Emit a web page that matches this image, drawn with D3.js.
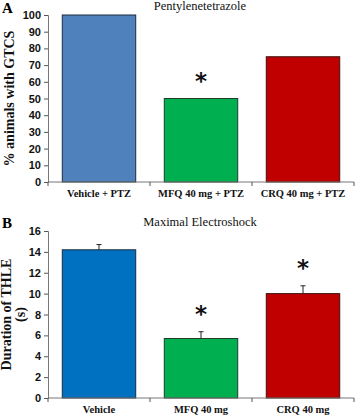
<!DOCTYPE html>
<html>
<head>
<meta charset="utf-8">
<script src="https://cdn.jsdelivr.net/npm/d3@7"></script>
<style>
  body { margin: 0; background: #fff; }
  svg { display: block; font-family: "Liberation Serif", "Times New Roman", serif; }
</style>
</head>
<body>
<svg width="355" height="415"></svg>
<script>
// Panel A data: % animals with GTCS
var groupsA = ["Vehicle + PTZ", "MFQ 40 mg + PTZ", "CRQ 40 mg + PTZ"];
var valuesA = [100, 50, 75];
var starsA = [false, true, false];
var ticksA = [0, 10, 20, 30, 40, 50, 60, 70, 80, 90, 100];

// Panel B data: duration of THLE (s)
var groupsB = ["Vehicle", "MFQ 40 mg", "CRQ 40 mg"];
var valuesB = [14.2, 5.7, 10.0];
var errorsB = [0.5, 0.65, 0.75];
var starsB = [false, true, true];
var ticksB = [0, 2, 4, 6, 8, 10, 12, 14, 16];

var svg = d3.select("svg");

//Draws one bar panel with its own scales and axes
function drawPanel(opt) {
  var g = svg.append("g");

  var xScale = d3.scaleBand()
    .domain(opt.groups)
    .range([opt.left, opt.right])
    .paddingInner(0.28)
    .paddingOuter(0.14);

  var yScale = d3.scaleLinear()
    .domain([0, opt.max])
    .range([opt.bottom, opt.top]);

  //Bars
  g.selectAll(".bar")
    .data(opt.values)
    .join("rect")
    .attr("class", "bar")
    .attr("x", function (d, i) { return xScale(opt.groups[i]); })
    .attr("y", function (d) { return yScale(d); })
    .attr("width", xScale.bandwidth())
    .attr("height", function (d) { return yScale(0) - yScale(d); })
    .attr("fill", function (d, i) { return opt.colors[i]; })
    .attr("stroke", function (d, i) { return opt.strokes[i]; })
    .attr("stroke-width", 1);

  //Error bars (upper only)
  if (opt.errors) {
    var eb = g.selectAll(".err")
      .data(opt.values)
      .join("g")
      .attr("class", "err");
    eb.append("line")
      .attr("x1", function (d, i) { return xScale(opt.groups[i]) + xScale.bandwidth() / 2; })
      .attr("x2", function (d, i) { return xScale(opt.groups[i]) + xScale.bandwidth() / 2; })
      .attr("y1", function (d) { return yScale(d); })
      .attr("y2", function (d, i) { return yScale(d + opt.errors[i]); })
      .attr("stroke", "#222");
    eb.append("line")
      .attr("x1", function (d, i) { return xScale(opt.groups[i]) + xScale.bandwidth() / 2 - 2.5; })
      .attr("x2", function (d, i) { return xScale(opt.groups[i]) + xScale.bandwidth() / 2 + 2.5; })
      .attr("y1", function (d, i) { return yScale(d + opt.errors[i]); })
      .attr("y2", function (d, i) { return yScale(d + opt.errors[i]); })
      .attr("stroke", "#222");
  }

  //Significance asterisks, about 25px above the bar / error cap
  g.selectAll(".star")
    .data(opt.values)
    .join("text")
    .attr("class", "star")
    .attr("x", function (d, i) { return xScale(opt.groups[i]) + xScale.bandwidth() / 2; })
    .attr("y", function (d, i) {
      var top = opt.errors ? d + opt.errors[i] : d;
      return yScale(top) - 10;
    })
    .attr("text-anchor", "middle")
    .style("font-family", "'DejaVu Sans', sans-serif")
    .style("font-size", "23px")
    .style("font-weight", "bold")
    .attr("fill", "#111")
    .text(function (d, i) { return opt.stars[i] ? "*" : ""; });

  //Y axis
  var yAxis = d3.axisLeft(yScale).tickValues(opt.ticks).tickSize(4).tickPadding(3);
  var ya = g.append("g")
    .attr("transform", "translate(" + opt.left + ",0)")
    .call(yAxis);
  ya.select(".domain").attr("stroke", "#777");
  ya.selectAll(".tick line").attr("stroke", "#555");
  ya.selectAll(".tick text")
    .style("font-size", "11px")
    .style("font-weight", "bold")
    .attr("fill", "#111");

  //X axis with ticks at category boundaries
  var xa = g.append("g").attr("transform", "translate(0," + opt.bottom + ")");
  xa.append("line")
    .attr("x1", opt.left)
    .attr("x2", opt.right)
    .attr("stroke", "#777");
  var bounds = [opt.left].concat(opt.groups.map(function (d) {
    return xScale(d) + xScale.bandwidth() + xScale.step() * 0.14;
  }));
  xa.selectAll(".xtick")
    .data(bounds)
    .join("line")
    .attr("class", "xtick")
    .attr("x1", function (d) { return d; })
    .attr("x2", function (d) { return d; })
    .attr("y1", 0)
    .attr("y2", 4)
    .attr("stroke", "#555");
  xa.selectAll(".xlabel")
    .data(opt.groups)
    .join("text")
    .attr("class", "xlabel")
    .attr("x", function (d) { return xScale(d) + xScale.bandwidth() / 2; })
    .attr("y", opt.labelOffset)
    .attr("text-anchor", "middle")
    .style("font-size", "10.5px")
    .style("font-weight", "bold")
    .attr("fill", "#111")
    .text(function (d) { return d; });

  //Title
  g.append("text")
    .attr("x", opt.titleX)
    .attr("y", opt.titleY)
    .attr("text-anchor", "middle")
    .style("font-size", "12.5px")
    .attr("fill", "#111")
    .text(opt.title);

  //Panel letter
  g.append("text")
    .attr("x", 2)
    .attr("y", opt.letterY)
    .style("font-size", "15px")
    .style("font-weight", "bold")
    .text(opt.letter);

  //Y axis title (can be several lines)
  var yt = g.append("text")
    .attr("transform", "translate(" + opt.yTitleX + "," + ((opt.top + opt.bottom) / 2) + ") rotate(-90)")
    .attr("text-anchor", "middle")
    .style("font-size", "14px")
    .style("font-weight", "bold")
    .attr("fill", "#111");
  opt.yTitle.forEach(function (line, i) {
    yt.append("tspan")
      .attr("x", 0)
      .attr("dy", i === 0 ? 0 : "1em")
      .text(line);
  });
}

drawPanel({
  groups: groupsA, values: valuesA, stars: starsA, ticks: ticksA, max: 100,
  left: 48, right: 354, top: 15, bottom: 182,
  colors: ["#4F81BD", "#00B050", "#C00000"],
  strokes: ["#1d2b3d", "#1d3d28", "#3d1010"],
  labelOffset: 15,
  title: "Pentylenetetrazole", titleX: 200, titleY: 10,
  letter: "A", letterY: 13,
  yTitle: ["% animals with GTCS"], yTitleX: 14
});

drawPanel({
  groups: groupsB, values: valuesB, errors: errorsB, stars: starsB, ticks: ticksB, max: 16,
  left: 48, right: 354, top: 231, bottom: 398,
  colors: ["#0070C0", "#00B050", "#C00000"],
  strokes: ["#1d2b3d", "#1d3d28", "#3d1010"],
  labelOffset: 15,
  title: "Maximal Electroshock", titleX: 200, titleY: 226,
  letter: "B", letterY: 228,
  yTitle: ["Duration of THLE", "(s)"], yTitleX: 11
});
</script>
</body>
</html>
